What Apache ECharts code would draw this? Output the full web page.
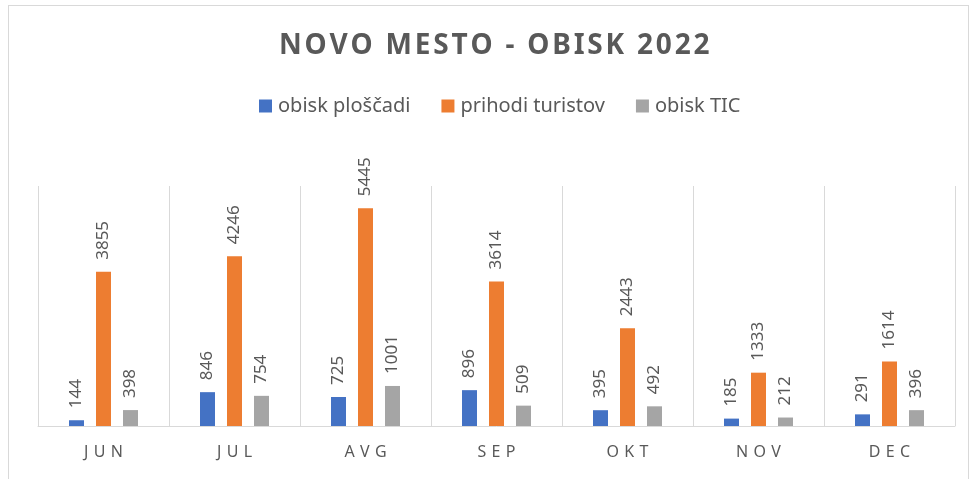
<!DOCTYPE html>
<html>
<head>
<meta charset="utf-8">
<script src="https://cdn.jsdelivr.net/npm/echarts@6/dist/echarts.min.js"></script>
<style>
  html, body { margin: 0; padding: 0; background: #fff; }
  #chart { width: 973px; height: 479px; }
  #frame { position: absolute; left: 8px; top: 5px; width: 961px; height: 480px; border: 1px solid #d9d9d9; box-sizing: border-box; pointer-events: none; }
</style>
</head>
<body>
<div id="chart"></div>
<div id="frame"></div>
<script>
  var months = ['JUN', 'JUL', 'AVG', 'SEP', 'OKT', 'NOV', 'DEC'];
  var obiskPloscadi = [144, 846, 725, 896, 395, 185, 291];
  var prihodiTuristov = [3855, 4246, 5445, 3614, 2443, 1333, 1614];
  var obiskTIC = [398, 754, 1001, 509, 492, 212, 396];

  var chartDom = document.getElementById('chart');
  var myChart = echarts.init(chartDom);

  var fontFam = '"Noto Sans", "Open Sans", sans-serif';

  // razmik med črkami (ECharts nima letter-spacing)
  function spaced(s, sep) {
    return s.split('').join(sep);
  }

  var labelStyle = {
    show: true,
    position: 'top',
    rotate: 90,
    align: 'left',
    verticalAlign: 'middle',
    distance: 12,
    color: '#595959',
    fontSize: 17,
    fontFamily: fontFam
  };

  function makeSeries(name, data, color) {
    return {
      name: name,
      type: 'bar',
      data: data,
      barWidth: 15,
      barGap: '80%',
      itemStyle: { color: color },
      label: labelStyle
    };
  }

  var option = {
    animation: false,
    title: {
      text: spaced('NOVO MESTO - OBISK 2022', '\u200A'),
      left: 274,
      top: 27,
      textStyle: {
        color: '#595959',
        fontSize: 28,
        fontWeight: 'bold',
        fontFamily: fontFam
      }
    },
    legend: {
      top: 91,
      left: 254,
      icon: 'rect',
      itemWidth: 13,
      itemHeight: 13,
      itemGap: 31,
      itemStyle: { borderWidth: 0 },
      textStyle: { color: '#595959', fontSize: 20, fontFamily: fontFam, padding: [0, 0, 0, 1] }
    },
    grid: {
      left: 38,
      right: 18,
      top: 186,
      bottom: 53
    },
    xAxis: {
      type: 'category',
      data: months,
      axisTick: { show: false },
      axisLine: { lineStyle: { color: '#d9d9d9', width: 1 } },
      splitLine: { show: true, lineStyle: { color: '#d9d9d9', width: 1 } },
      axisLabel: {
        color: '#595959',
        fontSize: 16,
        fontFamily: fontFam,
        margin: 18,
        formatter: function (v) { return spaced(v, '\u2009\u2009'); }
      }
    },
    yAxis: {
      type: 'value',
      min: 0,
      max: 6000,
      show: false,
      splitLine: { show: false }
    },
    series: [
      makeSeries('obisk ploščadi', obiskPloscadi, '#4472c4'),
      makeSeries('prihodi turistov', prihodiTuristov, '#ed7d31'),
      makeSeries('obisk TIC', obiskTIC, '#a5a5a5')
    ]
  };

  myChart.setOption(option);

  window.addEventListener('resize', function () {
    myChart.resize();
  });
</script>
</body>
</html>
